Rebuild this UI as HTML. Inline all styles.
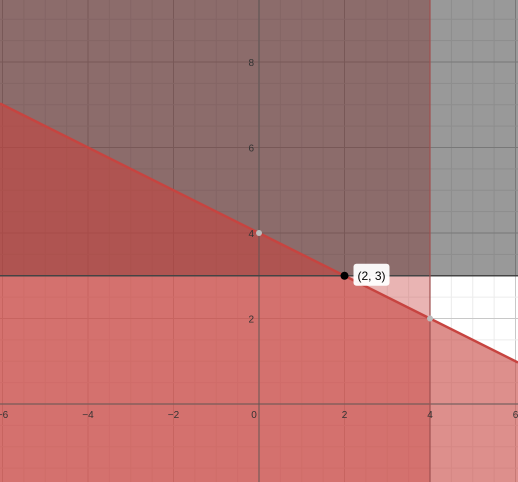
<!DOCTYPE html>
<html><head><meta charset="utf-8"><style>
html,body{margin:0;padding:0;background:#fff;}
svg{display:block;font-family:"Liberation Sans",sans-serif;}
</style></head><body>
<svg id="g" width="518" height="482"></svg>
<script>
const xTicks=[-6,-4,-2,0,2,4,6];
const yTicks=[2,4,6,8];
const lineSlope=[-0.5];
const lineIntercept=[4];
const hBound=[3];
const vBound=[4];
const points=[[0,4],[4,2],[2,3]];
const pointLabels=["","","(2, 3)"];

const ns="http://www.w3.org/2000/svg";
const svg=document.getElementById('g');
const s=42.75, ox=259, oy=404;
const X=v=>ox+v*s, Y=v=>oy-v*s;
function el(t,a){const e=document.createElementNS(ns,t);for(const k in a)e.setAttribute(k,a[k]);svg.appendChild(e);return e;}
const xmin=(0-ox)/s, xmax=(518-ox)/s, ymin=(oy-482)/s, ymax=oy/s;
for(let v=Math.ceil(xmin*2)/2;v<=xmax;v+=0.5){
  const g=el('line',{x1:X(v),x2:X(v),y1:0,y2:482,stroke:Math.abs(v%2)<1e-9?'#c8c8c8':'#ececec','stroke-width':1});
  
  
}
for(let v=Math.ceil(ymin*2)/2;v<=ymax;v+=0.5){
  const g=el('line',{x1:0,x2:518,y1:Y(v),y2:Y(v),stroke:Math.abs(v%2)<1e-9?'#c8c8c8':'#ececec','stroke-width':1});
  
  
}
const f=x=>lineSlope[0]*x+lineIntercept[0];
const r1=el('rect',{x:0,y:0,width:X(vBound[0]),height:482,fill:'#c74440','fill-opacity':0.4});


const r2=el('rect',{x:0,y:0,width:518,height:Y(hBound[0]),fill:'#000','fill-opacity':0.4});


const p=el('polygon',{points:`${X(xmin)},${Y(f(xmin))} ${X(xmax)},${Y(f(xmax))} 518,482 0,482`,fill:'#c74440','fill-opacity':0.6});


const ax=el('line',{x1:0,x2:518,y1:Y(0),y2:Y(0),stroke:'#555','stroke-width':1.2,'stroke-opacity':0.7});


const ay=el('line',{x1:X(0),x2:X(0),y1:0,y2:482,stroke:'#555','stroke-width':1.2,'stroke-opacity':0.7});


const bl=el('line',{x1:X(xmin),y1:Y(f(xmin)),x2:X(xmax),y2:Y(f(xmax)),stroke:'#c74440','stroke-width':2.5});


const bh=el('line',{x1:0,x2:518,y1:Y(hBound[0]),y2:Y(hBound[0]),stroke:'#444','stroke-width':1.5});


const bv=el('line',{x1:X(vBound[0]),x2:X(vBound[0]),y1:0,y2:482,stroke:'#a05050','stroke-width':1.2});


xTicks.forEach(v=>{
  const t=el('text',{x:X(v)+(v===0?-5:0),y:Y(0)+14,'font-size':10,fill:'#333','text-anchor':'middle'});
  t.textContent=v<0?'\u2212'+(-v):v;
  
  
});
yTicks.forEach(v=>{
  const t=el('text',{x:X(0)-5,y:Y(v)+4,'font-size':10,fill:'#333','text-anchor':'end'});
  t.textContent=v;
  
  
});
points.forEach((pt,i)=>{
  const c=el('circle',{cx:X(pt[0]),cy:Y(pt[1]),r:i===2?4:3,fill:i===2?'#000':'#bbb'});
  
  
  if(pointLabels[i]){
    const b=el('rect',{x:X(pt[0])+9,y:Y(pt[1])-12,width:36,height:22,rx:3,fill:'#fff','fill-opacity':0.95});
    
    
    const t=el('text',{x:X(pt[0])+27,y:Y(pt[1])+4,'font-size':12,fill:'#000','text-anchor':'middle'});
    t.textContent=pointLabels[i];
    
    
  }
});
</script>
</body></html>
